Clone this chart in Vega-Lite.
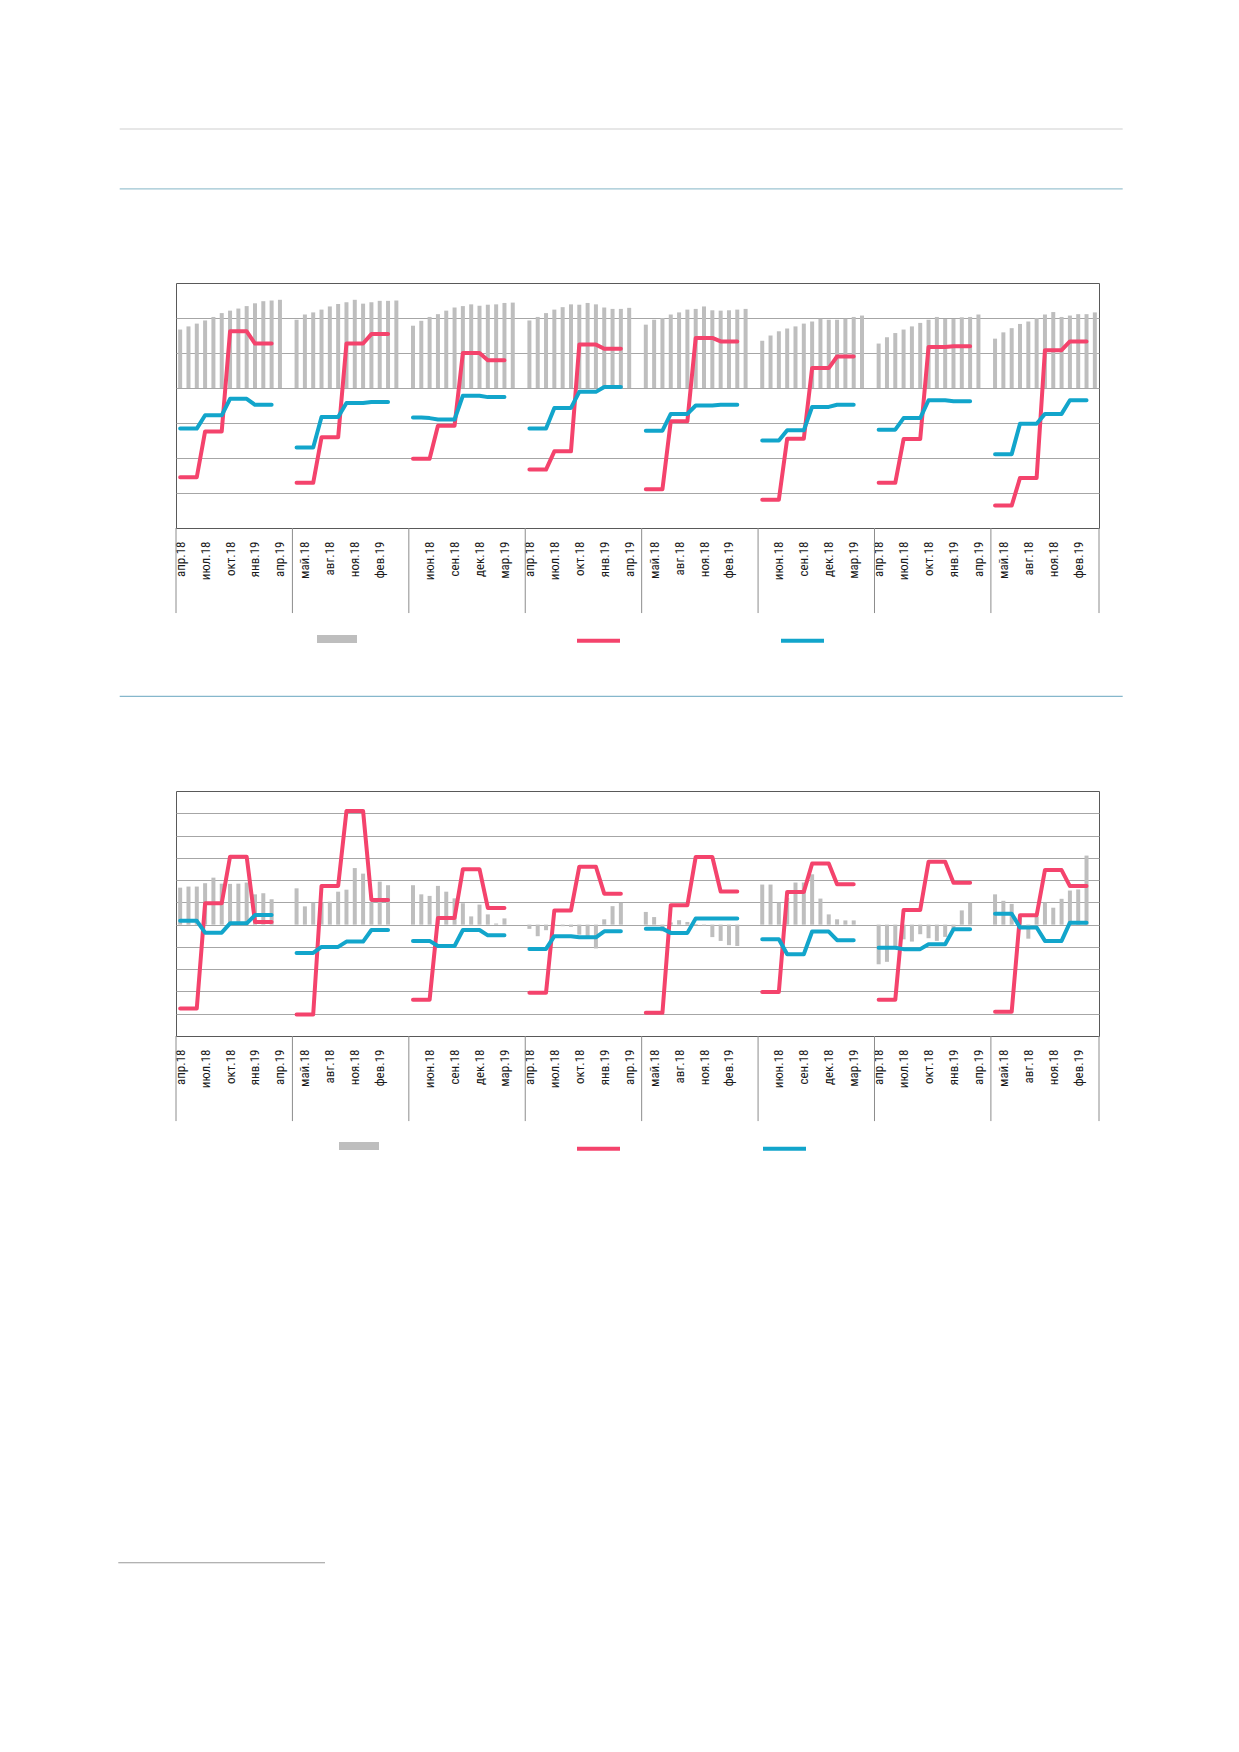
{
"$schema": "https://vega.github.io/schema/vega-lite/v6.json",
"background": "white",
"padding": {"left": 117, "top": 127, "right": 5, "bottom": 5},
"config": {"view": {"stroke": "#595959", "strokeWidth": 1}, "axis": {"labelOverlap": false}},
"datasets": {
"sep": [{"x":-0.5},{"x":13.5},{"x":27.5},{"x":41.5},{"x":55.5},{"x":69.5},{"x":83.5},{"x":97.5},{"x":110.5}],
"b1": [
{"x":0,"v":1.67},{"x":1,"v":1.76},{"x":2,"v":1.84},{"x":3,"v":1.93},{"x":4,"v":2.03},{"x":5,"v":2.14},{"x":6,"v":2.21},{"x":7,"v":2.27},{"x":8,"v":2.34},{"x":9,"v":2.42},{"x":10,"v":2.48},{"x":11,"v":2.50},{"x":12,"v":2.52},
{"x":14,"v":1.95},{"x":15,"v":2.10},{"x":16,"v":2.16},{"x":17,"v":2.24},{"x":18,"v":2.33},{"x":19,"v":2.40},{"x":20,"v":2.45},{"x":21,"v":2.52},{"x":22,"v":2.41},{"x":23,"v":2.45},{"x":24,"v":2.49},{"x":25,"v":2.49},{"x":26,"v":2.50},
{"x":28,"v":1.78},{"x":29,"v":1.92},{"x":30,"v":2.03},{"x":31,"v":2.11},{"x":32,"v":2.21},{"x":33,"v":2.30},{"x":34,"v":2.34},{"x":35,"v":2.39},{"x":36,"v":2.35},{"x":37,"v":2.38},{"x":38,"v":2.39},{"x":39,"v":2.43},{"x":40,"v":2.44},
{"x":42,"v":1.93},{"x":43,"v":2.03},{"x":44,"v":2.14},{"x":45,"v":2.24},{"x":46,"v":2.31},{"x":47,"v":2.39},{"x":48,"v":2.38},{"x":49,"v":2.43},{"x":50,"v":2.39},{"x":51,"v":2.30},{"x":52,"v":2.26},{"x":53,"v":2.26},{"x":54,"v":2.29},
{"x":56,"v":1.81},{"x":57,"v":1.95},{"x":58,"v":2.00},{"x":59,"v":2.10},{"x":60,"v":2.16},{"x":61,"v":2.24},{"x":62,"v":2.26},{"x":63,"v":2.33},{"x":64,"v":2.22},{"x":65,"v":2.21},{"x":66,"v":2.22},{"x":67,"v":2.24},{"x":68,"v":2.26},
{"x":70,"v":1.35},{"x":71,"v":1.50},{"x":72,"v":1.62},{"x":73,"v":1.70},{"x":74,"v":1.76},{"x":75,"v":1.84},{"x":76,"v":1.90},{"x":77,"v":1.98},{"x":78,"v":1.95},{"x":79,"v":1.95},{"x":80,"v":1.98},{"x":81,"v":2.03},{"x":82,"v":2.07},
{"x":84,"v":1.27},{"x":85,"v":1.45},{"x":86,"v":1.57},{"x":87,"v":1.67},{"x":88,"v":1.76},{"x":89,"v":1.86},{"x":90,"v":1.95},{"x":91,"v":2.03},{"x":92,"v":1.97},{"x":93,"v":1.97},{"x":94,"v":2.02},{"x":95,"v":2.03},{"x":96,"v":2.10},
{"x":98,"v":1.41},{"x":99,"v":1.59},{"x":100,"v":1.71},{"x":101,"v":1.83},{"x":102,"v":1.90},{"x":103,"v":2.00},{"x":104,"v":2.10},{"x":105,"v":2.17},{"x":106,"v":2.03},{"x":107,"v":2.07},{"x":108,"v":2.11},{"x":109,"v":2.11},{"x":110,"v":2.16}
],
"r1": [
{"g":1,"x":0,"v":-2.55},{"g":1,"x":1,"v":-2.55},{"g":1,"x":2,"v":-2.55},{"g":1,"x":3,"v":-1.24},{"g":1,"x":4,"v":-1.24},{"g":1,"x":5,"v":-1.24},{"g":1,"x":6,"v":1.62},{"g":1,"x":7,"v":1.62},{"g":1,"x":8,"v":1.62},{"g":1,"x":9,"v":1.27},{"g":1,"x":10,"v":1.27},{"g":1,"x":11,"v":1.27},
{"g":2,"x":14,"v":-2.71},{"g":2,"x":15,"v":-2.71},{"g":2,"x":16,"v":-2.71},{"g":2,"x":17,"v":-1.41},{"g":2,"x":18,"v":-1.41},{"g":2,"x":19,"v":-1.41},{"g":2,"x":20,"v":1.27},{"g":2,"x":21,"v":1.27},{"g":2,"x":22,"v":1.27},{"g":2,"x":23,"v":1.54},{"g":2,"x":24,"v":1.54},{"g":2,"x":25,"v":1.54},
{"g":3,"x":28,"v":-2.02},{"g":3,"x":29,"v":-2.02},{"g":3,"x":30,"v":-2.02},{"g":3,"x":31,"v":-1.08},{"g":3,"x":32,"v":-1.08},{"g":3,"x":33,"v":-1.08},{"g":3,"x":34,"v":1.00},{"g":3,"x":35,"v":1.00},{"g":3,"x":36,"v":1.00},{"g":3,"x":37,"v":0.79},{"g":3,"x":38,"v":0.79},{"g":3,"x":39,"v":0.79},
{"g":4,"x":42,"v":-2.33},{"g":4,"x":43,"v":-2.33},{"g":4,"x":44,"v":-2.33},{"g":4,"x":45,"v":-1.81},{"g":4,"x":46,"v":-1.81},{"g":4,"x":47,"v":-1.81},{"g":4,"x":48,"v":1.24},{"g":4,"x":49,"v":1.24},{"g":4,"x":50,"v":1.24},{"g":4,"x":51,"v":1.12},{"g":4,"x":52,"v":1.12},{"g":4,"x":53,"v":1.12},
{"g":5,"x":56,"v":-2.89},{"g":5,"x":57,"v":-2.89},{"g":5,"x":58,"v":-2.89},{"g":5,"x":59,"v":-0.95},{"g":5,"x":60,"v":-0.95},{"g":5,"x":61,"v":-0.95},{"g":5,"x":62,"v":1.43},{"g":5,"x":63,"v":1.43},{"g":5,"x":64,"v":1.43},{"g":5,"x":65,"v":1.33},{"g":5,"x":66,"v":1.33},{"g":5,"x":67,"v":1.33},
{"g":6,"x":70,"v":-3.19},{"g":6,"x":71,"v":-3.19},{"g":6,"x":72,"v":-3.19},{"g":6,"x":73,"v":-1.45},{"g":6,"x":74,"v":-1.45},{"g":6,"x":75,"v":-1.45},{"g":6,"x":76,"v":0.57},{"g":6,"x":77,"v":0.57},{"g":6,"x":78,"v":0.57},{"g":6,"x":79,"v":0.90},{"g":6,"x":80,"v":0.90},{"g":6,"x":81,"v":0.90},
{"g":7,"x":84,"v":-2.71},{"g":7,"x":85,"v":-2.71},{"g":7,"x":86,"v":-2.71},{"g":7,"x":87,"v":-1.46},{"g":7,"x":88,"v":-1.46},{"g":7,"x":89,"v":-1.46},{"g":7,"x":90,"v":1.17},{"g":7,"x":91,"v":1.17},{"g":7,"x":92,"v":1.17},{"g":7,"x":93,"v":1.19},{"g":7,"x":94,"v":1.19},{"g":7,"x":95,"v":1.19},
{"g":8,"x":98,"v":-3.36},{"g":8,"x":99,"v":-3.36},{"g":8,"x":100,"v":-3.36},{"g":8,"x":101,"v":-2.57},{"g":8,"x":102,"v":-2.57},{"g":8,"x":103,"v":-2.57},{"g":8,"x":104,"v":1.08},{"g":8,"x":105,"v":1.08},{"g":8,"x":106,"v":1.08},{"g":8,"x":107,"v":1.33},{"g":8,"x":108,"v":1.33},{"g":8,"x":109,"v":1.33}
],
"l1": [
{"g":1,"x":0,"v":-1.16},{"g":1,"x":1,"v":-1.16},{"g":1,"x":2,"v":-1.16},{"g":1,"x":3,"v":-0.78},{"g":1,"x":4,"v":-0.78},{"g":1,"x":5,"v":-0.78},{"g":1,"x":6,"v":-0.31},{"g":1,"x":7,"v":-0.31},{"g":1,"x":8,"v":-0.31},{"g":1,"x":9,"v":-0.48},{"g":1,"x":10,"v":-0.48},{"g":1,"x":11,"v":-0.48},
{"g":2,"x":14,"v":-1.70},{"g":2,"x":15,"v":-1.70},{"g":2,"x":16,"v":-1.70},{"g":2,"x":17,"v":-0.83},{"g":2,"x":18,"v":-0.83},{"g":2,"x":19,"v":-0.83},{"g":2,"x":20,"v":-0.43},{"g":2,"x":21,"v":-0.43},{"g":2,"x":22,"v":-0.43},{"g":2,"x":23,"v":-0.40},{"g":2,"x":24,"v":-0.40},{"g":2,"x":25,"v":-0.40},
{"g":3,"x":28,"v":-0.84},{"g":3,"x":29,"v":-0.84},{"g":3,"x":30,"v":-0.86},{"g":3,"x":31,"v":-0.90},{"g":3,"x":32,"v":-0.90},{"g":3,"x":33,"v":-0.90},{"g":3,"x":34,"v":-0.22},{"g":3,"x":35,"v":-0.22},{"g":3,"x":36,"v":-0.22},{"g":3,"x":37,"v":-0.26},{"g":3,"x":38,"v":-0.26},{"g":3,"x":39,"v":-0.26},
{"g":4,"x":42,"v":-1.16},{"g":4,"x":43,"v":-1.16},{"g":4,"x":44,"v":-1.16},{"g":4,"x":45,"v":-0.57},{"g":4,"x":46,"v":-0.57},{"g":4,"x":47,"v":-0.57},{"g":4,"x":48,"v":-0.11},{"g":4,"x":49,"v":-0.11},{"g":4,"x":50,"v":-0.11},{"g":4,"x":51,"v":0.03},{"g":4,"x":52,"v":0.03},{"g":4,"x":53,"v":0.03},
{"g":5,"x":56,"v":-1.22},{"g":5,"x":57,"v":-1.22},{"g":5,"x":58,"v":-1.22},{"g":5,"x":59,"v":-0.74},{"g":5,"x":60,"v":-0.74},{"g":5,"x":61,"v":-0.74},{"g":5,"x":62,"v":-0.50},{"g":5,"x":63,"v":-0.50},{"g":5,"x":64,"v":-0.50},{"g":5,"x":65,"v":-0.48},{"g":5,"x":66,"v":-0.48},{"g":5,"x":67,"v":-0.48},
{"g":6,"x":70,"v":-1.50},{"g":6,"x":71,"v":-1.50},{"g":6,"x":72,"v":-1.50},{"g":6,"x":73,"v":-1.21},{"g":6,"x":74,"v":-1.21},{"g":6,"x":75,"v":-1.21},{"g":6,"x":76,"v":-0.54},{"g":6,"x":77,"v":-0.54},{"g":6,"x":78,"v":-0.54},{"g":6,"x":79,"v":-0.48},{"g":6,"x":80,"v":-0.48},{"g":6,"x":81,"v":-0.48},
{"g":7,"x":84,"v":-1.19},{"g":7,"x":85,"v":-1.19},{"g":7,"x":86,"v":-1.19},{"g":7,"x":87,"v":-0.86},{"g":7,"x":88,"v":-0.86},{"g":7,"x":89,"v":-0.86},{"g":7,"x":90,"v":-0.35},{"g":7,"x":91,"v":-0.35},{"g":7,"x":92,"v":-0.35},{"g":7,"x":93,"v":-0.38},{"g":7,"x":94,"v":-0.38},{"g":7,"x":95,"v":-0.38},
{"g":8,"x":98,"v":-1.89},{"g":8,"x":99,"v":-1.89},{"g":8,"x":100,"v":-1.89},{"g":8,"x":101,"v":-1.02},{"g":8,"x":102,"v":-1.02},{"g":8,"x":103,"v":-1.02},{"g":8,"x":104,"v":-0.74},{"g":8,"x":105,"v":-0.74},{"g":8,"x":106,"v":-0.74},{"g":8,"x":107,"v":-0.35},{"g":8,"x":108,"v":-0.35},{"g":8,"x":109,"v":-0.35}
],
"b2": [
{"x":0,"v":1.66},{"x":1,"v":1.71},{"x":2,"v":1.71},{"x":3,"v":1.86},{"x":4,"v":2.11},{"x":5,"v":1.84},{"x":6,"v":1.83},{"x":7,"v":1.84},{"x":8,"v":1.89},{"x":9,"v":1.36},{"x":10,"v":1.41},{"x":11,"v":1.14},
{"x":14,"v":1.63},{"x":15,"v":0.82},{"x":16,"v":0.99},{"x":17,"v":1.00},{"x":18,"v":1.03},{"x":19,"v":1.48},{"x":20,"v":1.57},{"x":21,"v":2.54},{"x":22,"v":2.29},{"x":23,"v":1.00},{"x":24,"v":1.93},{"x":25,"v":1.77},
{"x":28,"v":1.77},{"x":29,"v":1.36},{"x":30,"v":1.29},{"x":31,"v":1.74},{"x":32,"v":1.48},{"x":33,"v":1.18},{"x":34,"v":0.96},{"x":35,"v":0.37},{"x":36,"v":0.90},{"x":37,"v":0.46},{"x":38,"v":0.05},{"x":39,"v":0.28},
{"x":42,"v":-0.19},{"x":43,"v":-0.52},{"x":44,"v":-0.25},{"x":45,"v":-0.05},{"x":46,"v":-0.07},{"x":47,"v":-0.10},{"x":48,"v":-0.45},{"x":49,"v":-0.62},{"x":50,"v":-1.07},{"x":51,"v":0.24},{"x":52,"v":0.83},{"x":53,"v":0.98},
{"x":56,"v":0.57},{"x":57,"v":0.34},{"x":58,"v":-0.30},{"x":59,"v":0.10},{"x":60,"v":0.20},{"x":61,"v":0.12},{"x":62,"v":0.03},{"x":63,"v":-0.04},{"x":64,"v":-0.56},{"x":65,"v":-0.73},{"x":66,"v":-0.92},{"x":67,"v":-0.96},
{"x":70,"v":1.80},{"x":71,"v":1.80},{"x":72,"v":0.99},{"x":73,"v":1.20},{"x":74,"v":1.89},{"x":75,"v":1.89},{"x":76,"v":2.26},{"x":77,"v":1.17},{"x":78,"v":0.46},{"x":79,"v":0.24},{"x":80,"v":0.19},{"x":81,"v":0.19},
{"x":84,"v":-1.78},{"x":85,"v":-1.67},{"x":86,"v":-0.96},{"x":87,"v":-0.66},{"x":88,"v":-0.76},{"x":89,"v":-0.43},{"x":90,"v":-0.61},{"x":91,"v":-0.73},{"x":92,"v":-0.55},{"x":93,"v":-0.20},{"x":94,"v":0.64},{"x":95,"v":0.99},
{"x":98,"v":1.36},{"x":99,"v":1.07},{"x":100,"v":0.93},{"x":101,"v":0.30},{"x":102,"v":-0.63},{"x":103,"v":0.35},{"x":104,"v":0.99},{"x":105,"v":0.76},{"x":106,"v":1.16},{"x":107,"v":1.53},{"x":108,"v":1.58},{"x":109,"v":3.10}
],
"r2": [
{"g":1,"x":0,"v":-3.76},{"g":1,"x":1,"v":-3.76},{"g":1,"x":2,"v":-3.76},{"g":1,"x":3,"v":0.96},{"g":1,"x":4,"v":0.96},{"g":1,"x":5,"v":0.96},{"g":1,"x":6,"v":3.05},{"g":1,"x":7,"v":3.05},{"g":1,"x":8,"v":3.05},{"g":1,"x":9,"v":0.12},{"g":1,"x":10,"v":0.12},{"g":1,"x":11,"v":0.12},
{"g":2,"x":14,"v":-4.03},{"g":2,"x":15,"v":-4.03},{"g":2,"x":16,"v":-4.03},{"g":2,"x":17,"v":1.74},{"g":2,"x":18,"v":1.74},{"g":2,"x":19,"v":1.74},{"g":2,"x":20,"v":5.10},{"g":2,"x":21,"v":5.10},{"g":2,"x":22,"v":5.10},{"g":2,"x":23,"v":1.11},{"g":2,"x":24,"v":1.11},{"g":2,"x":25,"v":1.11},
{"g":3,"x":28,"v":-3.37},{"g":3,"x":29,"v":-3.37},{"g":3,"x":30,"v":-3.37},{"g":3,"x":31,"v":0.30},{"g":3,"x":32,"v":0.30},{"g":3,"x":33,"v":0.30},{"g":3,"x":34,"v":2.49},{"g":3,"x":35,"v":2.49},{"g":3,"x":36,"v":2.49},{"g":3,"x":37,"v":0.75},{"g":3,"x":38,"v":0.75},{"g":3,"x":39,"v":0.75},
{"g":4,"x":42,"v":-3.06},{"g":4,"x":43,"v":-3.06},{"g":4,"x":44,"v":-3.06},{"g":4,"x":45,"v":0.64},{"g":4,"x":46,"v":0.64},{"g":4,"x":47,"v":0.64},{"g":4,"x":48,"v":2.60},{"g":4,"x":49,"v":2.60},{"g":4,"x":50,"v":2.60},{"g":4,"x":51,"v":1.39},{"g":4,"x":52,"v":1.39},{"g":4,"x":53,"v":1.39},
{"g":5,"x":56,"v":-3.96},{"g":5,"x":57,"v":-3.96},{"g":5,"x":58,"v":-3.96},{"g":5,"x":59,"v":0.87},{"g":5,"x":60,"v":0.87},{"g":5,"x":61,"v":0.87},{"g":5,"x":62,"v":3.04},{"g":5,"x":63,"v":3.04},{"g":5,"x":64,"v":3.04},{"g":5,"x":65,"v":1.49},{"g":5,"x":66,"v":1.49},{"g":5,"x":67,"v":1.49},
{"g":6,"x":70,"v":-3.02},{"g":6,"x":71,"v":-3.02},{"g":6,"x":72,"v":-3.02},{"g":6,"x":73,"v":1.47},{"g":6,"x":74,"v":1.47},{"g":6,"x":75,"v":1.47},{"g":6,"x":76,"v":2.74},{"g":6,"x":77,"v":2.74},{"g":6,"x":78,"v":2.74},{"g":6,"x":79,"v":1.81},{"g":6,"x":80,"v":1.81},{"g":6,"x":81,"v":1.81},
{"g":7,"x":84,"v":-3.37},{"g":7,"x":85,"v":-3.37},{"g":7,"x":86,"v":-3.37},{"g":7,"x":87,"v":0.66},{"g":7,"x":88,"v":0.66},{"g":7,"x":89,"v":0.66},{"g":7,"x":90,"v":2.82},{"g":7,"x":91,"v":2.82},{"g":7,"x":92,"v":2.82},{"g":7,"x":93,"v":1.88},{"g":7,"x":94,"v":1.88},{"g":7,"x":95,"v":1.88},
{"g":8,"x":98,"v":-3.91},{"g":8,"x":99,"v":-3.91},{"g":8,"x":100,"v":-3.91},{"g":8,"x":101,"v":0.42},{"g":8,"x":102,"v":0.42},{"g":8,"x":103,"v":0.42},{"g":8,"x":104,"v":2.45},{"g":8,"x":105,"v":2.45},{"g":8,"x":106,"v":2.45},{"g":8,"x":107,"v":1.73},{"g":8,"x":108,"v":1.73},{"g":8,"x":109,"v":1.73}
],
"l2": [
{"g":1,"x":0,"v":0.17},{"g":1,"x":1,"v":0.17},{"g":1,"x":2,"v":0.17},{"g":1,"x":3,"v":-0.36},{"g":1,"x":4,"v":-0.36},{"g":1,"x":5,"v":-0.36},{"g":1,"x":6,"v":0.06},{"g":1,"x":7,"v":0.06},{"g":1,"x":8,"v":0.06},{"g":1,"x":9,"v":0.43},{"g":1,"x":10,"v":0.43},{"g":1,"x":11,"v":0.43},
{"g":2,"x":14,"v":-1.27},{"g":2,"x":15,"v":-1.27},{"g":2,"x":16,"v":-1.27},{"g":2,"x":17,"v":-1.00},{"g":2,"x":18,"v":-1.00},{"g":2,"x":19,"v":-1.00},{"g":2,"x":20,"v":-0.76},{"g":2,"x":21,"v":-0.76},{"g":2,"x":22,"v":-0.76},{"g":2,"x":23,"v":-0.24},{"g":2,"x":24,"v":-0.24},{"g":2,"x":25,"v":-0.24},
{"g":3,"x":28,"v":-0.73},{"g":3,"x":29,"v":-0.73},{"g":3,"x":30,"v":-0.73},{"g":3,"x":31,"v":-0.96},{"g":3,"x":32,"v":-0.96},{"g":3,"x":33,"v":-0.96},{"g":3,"x":34,"v":-0.24},{"g":3,"x":35,"v":-0.24},{"g":3,"x":36,"v":-0.24},{"g":3,"x":37,"v":-0.48},{"g":3,"x":38,"v":-0.48},{"g":3,"x":39,"v":-0.48},
{"g":4,"x":42,"v":-1.09},{"g":4,"x":43,"v":-1.09},{"g":4,"x":44,"v":-1.09},{"g":4,"x":45,"v":-0.52},{"g":4,"x":46,"v":-0.52},{"g":4,"x":47,"v":-0.52},{"g":4,"x":48,"v":-0.57},{"g":4,"x":49,"v":-0.57},{"g":4,"x":50,"v":-0.57},{"g":4,"x":51,"v":-0.30},{"g":4,"x":52,"v":-0.30},{"g":4,"x":53,"v":-0.30},
{"g":5,"x":56,"v":-0.18},{"g":5,"x":57,"v":-0.18},{"g":5,"x":58,"v":-0.18},{"g":5,"x":59,"v":-0.37},{"g":5,"x":60,"v":-0.37},{"g":5,"x":61,"v":-0.37},{"g":5,"x":62,"v":0.28},{"g":5,"x":63,"v":0.28},{"g":5,"x":64,"v":0.28},{"g":5,"x":65,"v":0.28},{"g":5,"x":66,"v":0.28},{"g":5,"x":67,"v":0.28},
{"g":6,"x":70,"v":-0.66},{"g":6,"x":71,"v":-0.66},{"g":6,"x":72,"v":-0.66},{"g":6,"x":73,"v":-1.33},{"g":6,"x":74,"v":-1.33},{"g":6,"x":75,"v":-1.33},{"g":6,"x":76,"v":-0.31},{"g":6,"x":77,"v":-0.31},{"g":6,"x":78,"v":-0.31},{"g":6,"x":79,"v":-0.70},{"g":6,"x":80,"v":-0.70},{"g":6,"x":81,"v":-0.70},
{"g":7,"x":84,"v":-1.04},{"g":7,"x":85,"v":-1.04},{"g":7,"x":86,"v":-1.04},{"g":7,"x":87,"v":-1.10},{"g":7,"x":88,"v":-1.10},{"g":7,"x":89,"v":-1.10},{"g":7,"x":90,"v":-0.88},{"g":7,"x":91,"v":-0.88},{"g":7,"x":92,"v":-0.88},{"g":7,"x":93,"v":-0.21},{"g":7,"x":94,"v":-0.21},{"g":7,"x":95,"v":-0.21},
{"g":8,"x":98,"v":0.49},{"g":8,"x":99,"v":0.49},{"g":8,"x":100,"v":0.49},{"g":8,"x":101,"v":-0.13},{"g":8,"x":102,"v":-0.13},{"g":8,"x":103,"v":-0.13},{"g":8,"x":104,"v":-0.73},{"g":8,"x":105,"v":-0.73},{"g":8,"x":106,"v":-0.73},{"g":8,"x":107,"v":0.09},{"g":8,"x":108,"v":0.09},{"g":8,"x":109,"v":0.09}
]
},
"vconcat": [
{
"width": 923, "height": 245,
"layer": [
{"data": {"name": "b1"}, "mark": {"type": "bar", "width": 4},
 "encoding": {
  "x": {"field": "x", "type": "quantitative", "title": null, "scale": {"domain": [-0.5, 110.5], "nice": false, "zero": false, "padding": 0},
   "axis": {"values": [0,3,6,9,12,15,18,21,24,30,33,36,39,42,45,48,51,54,57,60,63,66,72,75,78,81,84,87,90,93,96,99,102,105,108], "tickCount": 200,
    "labelExpr": "['янв','фев','мар','апр','май','июн','июл','авг','сен','окт','ноя','дек'][(3 + datum.value % 14) % 12] + '.' + (18 + floor((3 + datum.value % 14) / 12))",
    "labelAngle": 270, "labelAlign": "right", "labelBaseline": "middle", "labelPadding": 13, "ticks": false, "grid": false,
    "domainColor": "#595959", "labelColor": "#1A1A1A", "labelFontSize": 13, "labelFont": "Liberation Sans Narrow, Arial Narrow, Roboto Condensed, Noto Sans Condensed, DejaVu Sans Condensed, sans-serif", "labelOverlap": false, "labelFlush": false}},
  "y": {"field": "v", "type": "quantitative", "title": null, "scale": {"domain": [-4, 3], "nice": false, "zero": false},
   "axis": {"values": [-3,-2,-1,0,1,2], "tickCount": 50, "labels": false, "ticks": false, "domain": false, "grid": true, "gridColor": "#A6A6A6", "gridWidth": 1}},
  "y2": {"datum": 0},
  "fill": {"datum": "Ряд 1", "scale": {"domain": ["Ряд 1"], "range": ["#BEBEBE"]},
   "legend": {"title": null, "orient": "none", "legendX": 141, "legendY": 336, "direction": "horizontal", "symbolType": "M-1,-0.2H1V0.2H-1Z", "symbolSize": 1600, "symbolStrokeWidth": 0, "labelExpr": "''", "padding": 0}}
 }},
{"data": {"name": "r1"}, "mark": {"type": "line", "strokeWidth": 4, "strokeCap": "round", "strokeJoin": "round"},
 "encoding": {
  "x": {"field": "x", "type": "quantitative", "title": null},
  "y": {"field": "v", "type": "quantitative", "title": null},
  "detail": {"field": "g"},
  "stroke": {"datum": "Ряд 2", "scale": {"domain": ["Ряд 2", "Ряд 3"], "range": ["#F4436C", "#12A5CB"]},
   "legend": {"title": null, "orient": "none", "legendX": 399, "legendY": 334, "direction": "horizontal", "symbolType": "stroke", "symbolSize": 1849, "symbolStrokeWidth": 4, "labelExpr": "''", "columnPadding": 145, "padding": 0}}
 }},
{"data": {"name": "l1"}, "mark": {"type": "line", "strokeWidth": 4, "strokeCap": "round", "strokeJoin": "round"},
 "encoding": {
  "x": {"field": "x", "type": "quantitative", "title": null},
  "y": {"field": "v", "type": "quantitative", "title": null},
  "detail": {"field": "g"},
  "stroke": {"datum": "Ряд 3"}
 }},
{"data": {"name": "sep"}, "mark": {"type": "rule", "color": "#8C8C8C", "strokeWidth": 1},
 "encoding": {"x": {"field": "x", "type": "quantitative", "title": null}, "y": {"datum": -4}, "y2": {"datum": -6.43}}},
{"data": {"values": [{}]}, "mark": {"type": "rule", "color": "#D0D0D0", "strokeWidth": 1.2},
 "encoding": {"x": {"datum": -7.27}, "x2": {"datum": 113.35}, "y": {"datum": 7.4}}},
{"data": {"values": [{}]}, "mark": {"type": "rule", "color": "#9DC4D2", "strokeWidth": 1.2},
 "encoding": {"x": {"datum": -7.27}, "x2": {"datum": 113.35}, "y": {"datum": 5.69}}},
{"data": {"values": [{}]}, "mark": {"type": "rule", "color": "#86B7CC", "strokeWidth": 1.2},
 "encoding": {"x": {"datum": -7.27}, "x2": {"datum": 113.35}, "y": {"datum": -8.81}}}
]
},
{
"width": 923, "height": 245,
"layer": [
{"data": {"name": "b2"}, "mark": {"type": "bar", "width": 4},
 "encoding": {
  "x": {"field": "x", "type": "quantitative", "title": null, "scale": {"domain": [-0.5, 110.5], "nice": false, "zero": false, "padding": 0},
   "axis": {"values": [0,3,6,9,12,15,18,21,24,30,33,36,39,42,45,48,51,54,57,60,63,66,72,75,78,81,84,87,90,93,96,99,102,105,108], "tickCount": 200,
    "labelExpr": "['янв','фев','мар','апр','май','июн','июл','авг','сен','окт','ноя','дек'][(3 + datum.value % 14) % 12] + '.' + (18 + floor((3 + datum.value % 14) / 12))",
    "labelAngle": 270, "labelAlign": "right", "labelBaseline": "middle", "labelPadding": 13, "ticks": false, "grid": false,
    "domainColor": "#595959", "labelColor": "#1A1A1A", "labelFontSize": 13, "labelFont": "Liberation Sans Narrow, Arial Narrow, Roboto Condensed, Noto Sans Condensed, DejaVu Sans Condensed, sans-serif", "labelOverlap": false, "labelFlush": false}},
  "y": {"field": "v", "type": "quantitative", "title": null, "scale": {"domain": [-5, 6], "nice": false, "zero": false},
   "axis": {"values": [-4,-3,-2,-1,0,1,2,3,4,5], "tickCount": 50, "labels": false, "ticks": false, "domain": false, "grid": true, "gridColor": "#A6A6A6", "gridWidth": 1}},
  "y2": {"datum": 0},
  "fill": {"datum": "Ряд 1", "scale": {"domain": ["Ряд 1"], "range": ["#BEBEBE"]},
   "legend": {"title": null, "orient": "none", "legendX": 163, "legendY": 335, "direction": "horizontal", "symbolType": "M-1,-0.2H1V0.2H-1Z", "symbolSize": 1600, "symbolStrokeWidth": 0, "labelExpr": "''", "padding": 0}}
 }},
{"data": {"name": "r2"}, "mark": {"type": "line", "strokeWidth": 4, "strokeCap": "round", "strokeJoin": "round"},
 "encoding": {
  "x": {"field": "x", "type": "quantitative", "title": null},
  "y": {"field": "v", "type": "quantitative", "title": null},
  "detail": {"field": "g"},
  "stroke": {"datum": "Ряд 2", "scale": {"domain": ["Ряд 2", "Ряд 3"], "range": ["#F4436C", "#12A5CB"]},
   "legend": {"title": null, "orient": "none", "legendX": 399, "legendY": 334, "direction": "horizontal", "symbolType": "stroke", "symbolSize": 1849, "symbolStrokeWidth": 4, "labelExpr": "''", "columnPadding": 127, "padding": 0}}
 }},
{"data": {"name": "l2"}, "mark": {"type": "line", "strokeWidth": 4, "strokeCap": "round", "strokeJoin": "round"},
 "encoding": {
  "x": {"field": "x", "type": "quantitative", "title": null},
  "y": {"field": "v", "type": "quantitative", "title": null},
  "detail": {"field": "g"},
  "stroke": {"datum": "Ряд 3"}
 }},
{"data": {"name": "sep"}, "mark": {"type": "rule", "color": "#8C8C8C", "strokeWidth": 1},
 "encoding": {"x": {"field": "x", "type": "quantitative", "title": null}, "y": {"datum": -5}, "y2": {"datum": -8.82}}},
{"data": {"values": [{}]}, "mark": {"type": "rule", "color": "#999999", "strokeWidth": 1.2},
 "encoding": {"x": {"datum": -7.44}, "x2": {"datum": 17.42}, "y": {"datum": -28.65}}}
]
}
],
"spacing": 263,
"bounds": "flush",
"resolve": {"scale": {"fill": "independent", "stroke": "independent"}, "legend": {"fill": "independent", "stroke": "independent"}}
}
